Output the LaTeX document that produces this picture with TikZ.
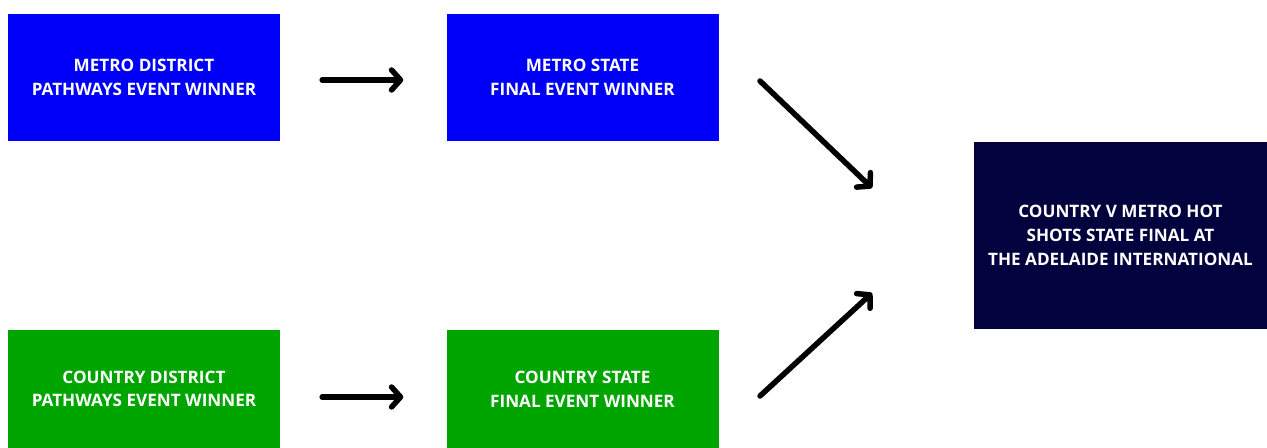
\documentclass[tikz,border=0pt]{standalone}
\usepackage{fontspec}
\setmainfont{Open Sans}
\usetikzlibrary{arrows.meta}
\definecolor{metroblue}{HTML}{0000FA}
\definecolor{countrygreen}{HTML}{00A500}
\definecolor{finalnavy}{HTML}{02023F}
\tikzset{
  box/.style={draw=none, minimum width=272bp, minimum height=127bp, inner sep=0pt,
    text=white, align=center, font=\fontsize{17.2}{23.8}\selectfont\bfseries},
  flow/.style={line width=5.5bp, line cap=round, line join=round,
    -{Straight Barb[length=9bp, width=20bp, line cap=round, line join=round]}}
}
\begin{document}
\begin{tikzpicture}[x=1bp, y=-1bp]
\useasboundingbox (0,0) rectangle (1267,448);
\node[box, fill=metroblue] (md) at (144,77.5) {METRO DISTRICT\\PATHWAYS EVENT WINNER};
\node[box, fill=metroblue] (ms) at (582.5,77.5) {METRO STATE\\FINAL EVENT WINNER};
\node[box, fill=countrygreen, minimum height=118bp] (cd) at (144,389) {COUNTRY DISTRICT\\PATHWAYS EVENT WINNER};
\node[box, fill=countrygreen, minimum height=118bp] (cs) at (582.5,389) {COUNTRY STATE\\FINAL EVENT WINNER};
\node[box, fill=finalnavy, minimum width=293bp, minimum height=187bp] (fin) at (1120.5,235.5) {COUNTRY V METRO HOT\\SHOTS STATE FINAL AT\\THE ADELAIDE INTERNATIONAL};
\coordinate (a1s) at (760,81);
\coordinate (a1e) at (872,188);
\coordinate (a2s) at (760,396);
\coordinate (a2e) at (872,293);
\draw[flow, shorten <=42bp, shorten >=43bp] (md.east |- 0,80) -- (ms.west |- 0,80);
\draw[flow, shorten <=42bp, shorten >=43bp] (cd.east |- 0,397) -- (cs.west |- 0,397);
\draw[flow] (a1s) -- (a1e);
\draw[flow] (a2s) -- (a2e);
\end{tikzpicture}
\end{document}
